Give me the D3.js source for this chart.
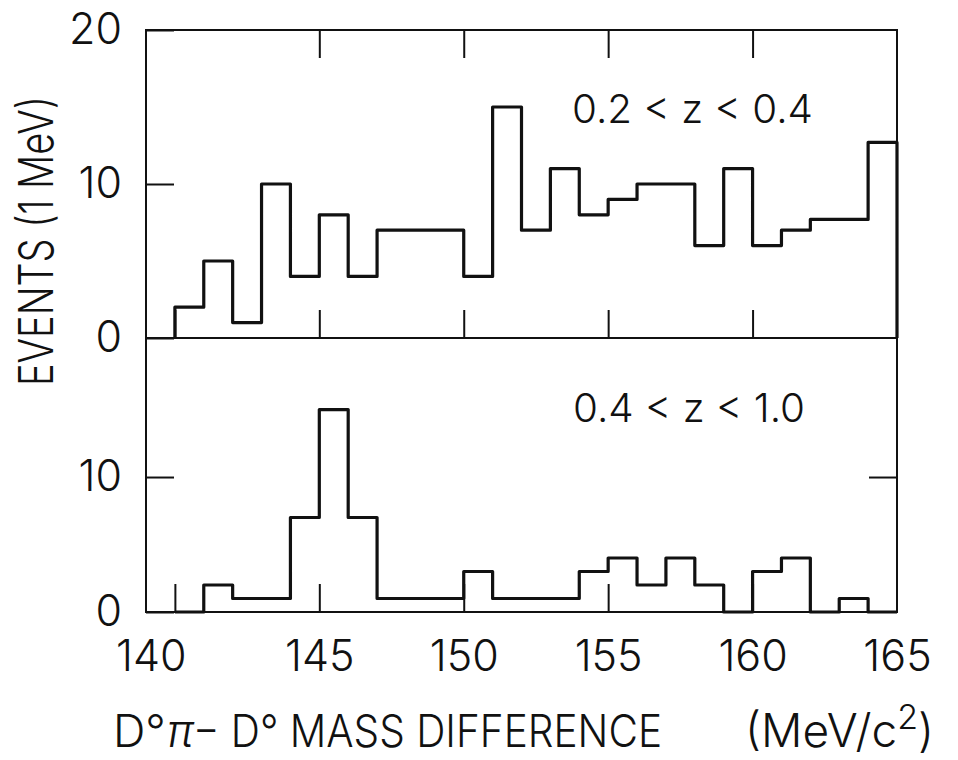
<!DOCTYPE html>
<html>
<head>
<meta charset="utf-8">
<script src="https://cdn.jsdelivr.net/npm/d3@7"></script>
<style>
  body { margin: 0; background: #fff; }
  text { font-family: Inter, "DejaVu Sans", sans-serif; font-weight: 300; fill: #111; }
</style>
</head>
<body>
<div id="chart"></div>
<script>
const w = 958;
const h = 760;

// bin low edges, 1 MeV wide
const binEdges = [140,141,142,143,144,145,146,147,148,149,150,151,152,153,154,155,156,157,158,159,160,161,162,163,164];
// 0.2 < z < 0.4
const upperCounts = [2,5,1,10,4,8,4,7,7,7,4,15,7,11,8,9,10,10,6,11,6,7,7.7,7.7,12.7];
// 0.4 < z < 1.0
const lowerCounts = [0,2,1,1,7,15,7,1,1,1,3,1,1,1,3,4,2,4,2,0,3,4,0,1,0];

const xTicks = [140,145,150,155,160,165];
const yTicksUpper = [0,10,20];
const yTicksLower = [0,10];
const panelLabels = ["0.2 < z < 0.4", "0.4 < z < 1.0"];

const frameL = 146, frameR = 897, frameT = 30, frameMid = 338, frameB = 612;
const tickLen = 28;

var x = d3.scaleLinear().domain([139, 165]).range([frameL, frameR]);
var yUp = d3.scaleLinear().domain([0, 20]).range([frameMid, frameT]);
var yLow = d3.scaleLinear().domain([0, 20.3]).range([frameB, frameMid]);

let svg = d3.select("#chart")
    .append("svg")
    .attr("width", w)
    .attr("height", h);

function stepPoints(counts) {
    let pts = [{x: binEdges[0], y: 0}];
    counts.forEach(function(c, i) { pts.push({x: binEdges[i], y: c}); });
    pts.push({x: 165, y: counts[counts.length - 1]});
    pts.push({x: 165, y: 0});
    return pts;
}

function drawHist(counts, yScale) {
    let line = d3.line()
        .x(d => x(d.x))
        .y(d => yScale(d.y))
        .curve(d3.curveStepAfter);
    svg.append("path")
        .attr("d", line(stepPoints(counts)))
        .attr("fill", "none")
        .attr("stroke", "#111")
        .attr("stroke-width", 3.2)
        .attr("stroke-linejoin", "round");
}

function styleAxis(g) {
    g.select(".domain").remove();
    g.selectAll("line").attr("stroke", "#111").attr("stroke-width", 2);
    g.selectAll("text").attr("font-size", 43).attr("fill", "#111")
        .style("font-family", "Inter, 'DejaVu Sans', sans-serif").style("font-weight", 300);
}

// frame
svg.append("rect")
    .attr("x", frameL).attr("y", frameT)
    .attr("width", frameR - frameL).attr("height", frameB - frameT)
    .attr("fill", "none").attr("stroke", "#111").attr("stroke-width", 2);
svg.append("line")
    .attr("x1", frameL).attr("x2", frameR).attr("y1", frameMid).attr("y2", frameMid)
    .attr("stroke", "#111").attr("stroke-width", 2);

drawHist(upperCounts, yUp);
drawHist(lowerCounts, yLow);

// upper panel: ticks on top edge and at the divider
svg.append("g").attr("transform", "translate(0," + frameT + ")")
    .call(d3.axisBottom(x).tickValues([145,150,155,160]).tickSize(tickLen).tickFormat(""))
    .call(styleAxis);
svg.append("g").attr("transform", "translate(0," + frameMid + ")")
    .call(d3.axisTop(x).tickValues([140,145,150,155,160]).tickSize(tickLen).tickFormat(""))
    .call(styleAxis);

// lower panel: bottom ticks with labels
svg.append("g").attr("transform", "translate(0," + frameB + ")")
    .call(d3.axisBottom(x).tickValues(xTicks).tickSizeInner(-tickLen).tickSizeOuter(0).tickPadding(28).tickFormat(d3.format("d")))
    .call(styleAxis)
    .call(g => g.selectAll(".tick").filter(d => d == 165).select("line").remove())
    .call(g => g.selectAll(".tick").filter(d => d == 140).select("text").attr("dx", -24));

// y axes
svg.append("g").attr("transform", "translate(" + frameL + ",0)")
    .call(d3.axisLeft(yUp).tickValues(yTicksUpper).tickSizeInner(-tickLen).tickSizeOuter(0).tickPadding(24))
    .call(styleAxis);
svg.append("g").attr("transform", "translate(" + frameL + ",0)")
    .call(d3.axisLeft(yLow).tickValues(yTicksLower).tickSizeInner(-tickLen).tickSizeOuter(0).tickPadding(24))
    .call(styleAxis);
svg.append("g").attr("transform", "translate(" + frameR + ",0)")
    .call(d3.axisRight(yLow).tickValues([10]).tickSizeInner(-tickLen).tickSizeOuter(0).tickFormat(""))
    .call(styleAxis);

// panel labels
svg.append("text")
    .attr("x", 572).attr("y", 123)
    .attr("font-size", 40)
    .attr("textLength", 241).attr("lengthAdjust", "spacingAndGlyphs")
    .text(panelLabels[0]);
svg.append("text")
    .attr("x", 573).attr("y", 422)
    .attr("font-size", 40)
    .attr("textLength", 232).attr("lengthAdjust", "spacingAndGlyphs")
    .text(panelLabels[1]);

// axis titles
svg.append("text")
    .attr("text-anchor", "middle")
    .attr("transform", "translate(53,241) rotate(-90)")
    .attr("font-size", 48)
    .attr("textLength", 290).attr("lengthAdjust", "spacingAndGlyphs")
    .text("EVENTS (1 MeV)");

svg.append("text")
    .attr("x", 113).attr("y", 747)
    .attr("font-size", 45)
    .text("D°");
svg.append("text")
    .attr("x", 167).attr("y", 747)
    .attr("font-size", 45)
    .style("font-style", "italic")
    .text("π");
svg.append("text")
    .attr("x", 193).attr("y", 747)
    .attr("font-size", 45)
    .attr("textLength", 469).attr("lengthAdjust", "spacingAndGlyphs")
    .text("− D° MASS DIFFERENCE");

let xu = svg.append("text")
    .attr("x", 745).attr("y", 747)
    .attr("font-size", 46);
xu.append("tspan").text("(MeV/c");
xu.append("tspan").attr("dy", -18).attr("font-size", 34).text("2");
xu.append("tspan").attr("dy", 18).text(")");
</script>
</body>
</html>
